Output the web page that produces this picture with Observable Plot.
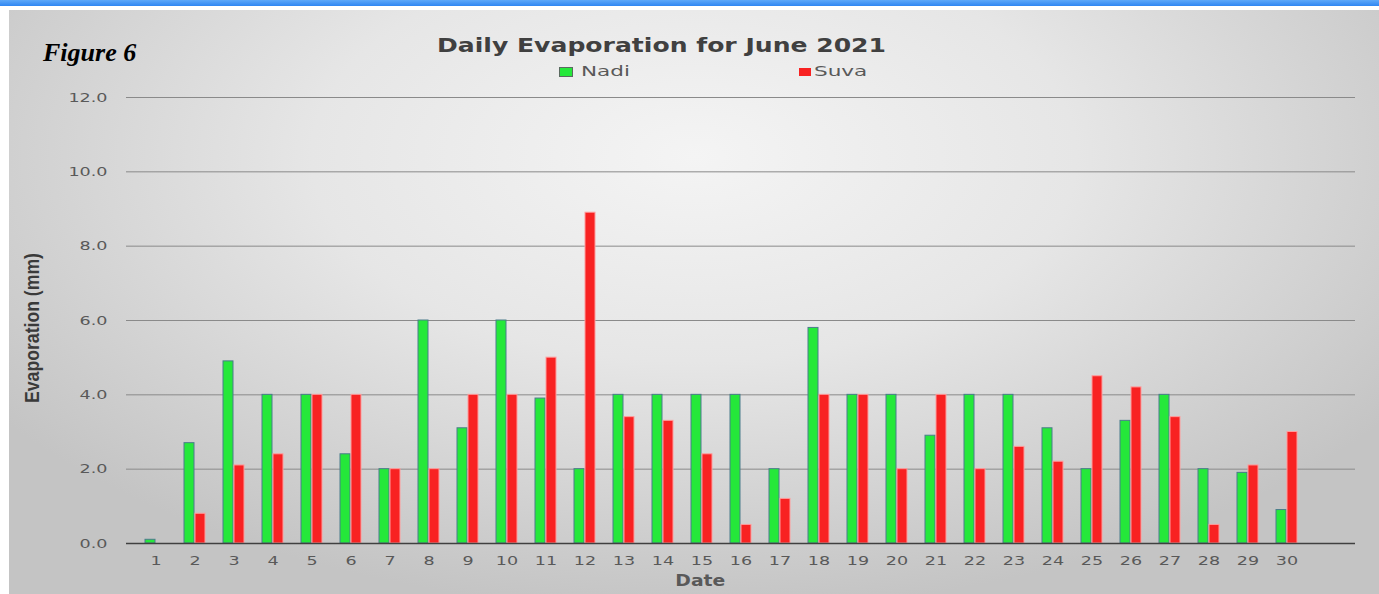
<!DOCTYPE html>
<html><head><meta charset="utf-8">
<script src="https://cdn.jsdelivr.net/npm/d3@7"></script>
<script src="https://cdn.jsdelivr.net/npm/@observablehq/plot@0.6"></script>
<style>
body{margin:0;background:#fff;}
#wrap{position:relative;width:1379px;height:594px;overflow:hidden;font-family:"DejaVu Sans",sans-serif;}
#strip{position:absolute;left:0;top:0;width:1379px;height:6px;background:linear-gradient(#5ea8f8,#2f86f2);}
#panel{position:absolute;left:9px;top:10px;right:0;bottom:0;background:radial-gradient(ellipse 62% 78% at 50% 25%, #f4f4f4 0%, #e6e6e6 45%, #c4c4c4 100%);}
#chart{position:absolute;left:0;top:0;}
.abs{position:absolute;white-space:nowrap;}
#fig{left:43px;top:40px;font-family:"Liberation Serif",serif;font-weight:bold;font-style:italic;font-size:26px;line-height:26px;color:#000;}
#title{top:34px;font-weight:bold;font-size:19px;line-height:22px;color:#404040;transform-origin:0 50%;}
.leg{top:63px;font-size:14px;line-height:16px;color:#595959;transform-origin:0 50%;}
.sw{position:absolute;}
#ylab{font-family:"Liberation Sans",sans-serif;font-weight:bold;font-size:20px;line-height:22px;color:#3a3a3a;}
#xlab{top:572px;font-weight:bold;font-size:16px;line-height:17px;color:#595959;}
</style></head>
<body>
<div id="wrap">
  <div id="strip"></div>
  <div id="panel"></div>
  <div id="chart"></div>
  <div class="abs" id="fig">Figure 6</div>
  <div class="abs" id="title">Daily Evaporation for June 2021</div>
  <div class="sw" style="left:559px;top:67px;width:12px;height:8px;background:#25e83a;border:1px solid #5a6a60;"></div>
  <div class="abs leg" id="legA" style="left:581px;">Nadi</div>
  <div class="sw" style="left:799px;top:68px;width:12px;height:8px;background:#f82222;"></div>
  <div class="abs leg" id="legB" style="left:814px;">Suva</div>
  <div class="abs" id="ylab">Evaporation (mm)</div>
  <div class="abs" id="xlab">Date</div>
</div>
<script>
const days = [1,2,3,4,5,6,7,8,9,10,11,12,13,14,15,16,17,18,19,20,21,22,23,24,25,26,27,28,29,30];
const nadi = [0.1,2.7,4.9,4.0,4.0,2.4,2.0,6.0,3.1,6.0,3.9,2.0,4.0,4.0,4.0,4.0,2.0,5.8,4.0,4.0,2.9,4.0,4.0,3.1,2.0,3.3,4.0,2.0,1.9,0.9];
const suva = [null,0.8,2.1,2.4,4.0,4.0,2.0,2.0,4.0,4.0,5.0,8.9,3.4,3.3,2.4,0.5,1.2,4.0,4.0,2.0,4.0,2.0,2.6,2.2,4.5,4.2,3.4,0.5,2.1,3.0];
const yTicks = [0,2,4,6,8,10,12];
const series = ["Nadi","Suva"];
const colors = ["#25e83a","#f82222"];

const data = days.map((d,i)=>({day:d, nadi:nadi[i], suva:suva[i]}));
const domainX = [...days, 31]; // empty trailing category as in the original

const chart = Plot.plot({
  width:1379, height:594,
  marginLeft:126, marginRight:24, marginTop:97, marginBottom:51,
  style:{background:"transparent", fontFamily:"DejaVu Sans, sans-serif", fontSize:"13px", color:"#595959", overflow:"visible"},
  x:{type:"band", domain:domainX, padding:0, tickFormat:d=> d<=30 ? String(d) : "", tickSize:0, tickPadding:12, label:null},
  y:{domain:[0,12], ticks:yTicks, tickFormat:d=>d.toFixed(1), tickSize:0, tickPadding:19, label:null},
  marks:[
    Plot.ruleY(yTicks.filter(v=>v>0), {stroke:"#8a8a8a", strokeWidth:1}),
    Plot.barY(data, {x:"day", y:"nadi", fill:colors[0], stroke:"#4a7c8c", strokeWidth:1, insetLeft:9, insetRight:20}),
    Plot.barY(data.filter(d=>d.suva!=null), {x:"day", y:"suva", fill:colors[1], stroke:"#ff9c9c", strokeWidth:1, insetLeft:20, insetRight:9}),
    Plot.ruleY([0], {stroke:"#404040", strokeWidth:1.5})
  ]
});
document.getElementById("chart").appendChild(chart);

// horizontally stretched typography, as in the (stretched) original
const STRETCH = 1.35;
chart.querySelectorAll("text").forEach(t => {
  const tr = t.getAttribute("transform");
  if (tr) t.setAttribute("transform", tr + ` scale(${STRETCH},1)`);
  else {
    const x = +(t.getAttribute("x")||0), y = +(t.getAttribute("y")||0);
    t.removeAttribute("x"); t.removeAttribute("y");
    t.setAttribute("transform", `translate(${x},${y}) scale(${STRETCH},1)`);
  }
});

function fitWidth(el, w){ const r = el.getBoundingClientRect().width; return w / r; }
// title: spans ~437..886
const title = document.getElementById("title");
const sT = fitWidth(title, 449);
title.style.left = "437px"; title.style.transform = `scaleX(${sT})`;
// legend labels
const legA = document.getElementById("legA"), legB = document.getElementById("legB");
const sL = fitWidth(legA, 49);
legA.style.transform = `scaleX(${sL})`; legB.style.transform = `scaleX(${sL})`;
// x label "Date" centred at 700, ~50px wide
const xl = document.getElementById("xlab");
const sX = fitWidth(xl, 50);
const xw = xl.getBoundingClientRect().width;
xl.style.left = (700 - xw/2) + "px"; xl.style.transform = `scaleX(${sX})`; xl.style.transformOrigin = "50% 50%";
// y label: rotated, ~150px long, centred at (32, 328)
const yl = document.getElementById("ylab");
const yr = yl.getBoundingClientRect();
const sY = 150 / yr.width;
yl.style.left = (32 - yr.width/2) + "px"; yl.style.top = (328 - yr.height/2) + "px";
yl.style.transform = `rotate(-90deg) scaleX(${sY})`;
</script>
</body></html>
